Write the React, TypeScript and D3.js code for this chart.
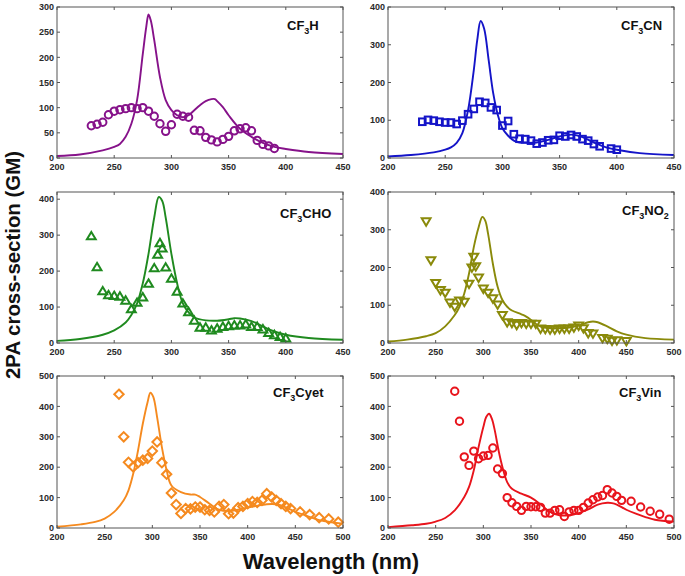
import React from "react";
import * as d3 from "d3";

// ---------- DATA ----------
type P = [number, number];

const cf3hFit: P[] = [[200,4],[220,7],[240,15],[250,22],[255,28],[260,42],[265,68],[270,115],[275,207],[278,260],[280,285],[282,273],[285,234],[290,161],[295,115],[300,95],[305,85],[310,81],[315,85],[320,95],[325,105],[330,113],[335,117],[338,117],[340,113],[345,101],[350,85],[360,58],[370,42],[380,30],[390,22],[400,18],[420,12],[450,8]];
const cf3hExp: P[] = [[230,64],[235,67],[240,71],[245,86],[250,93],[255,96],[260,98],[265,100],[270,98],[275,100],[280,93],[285,83],[290,68],[295,53],[300,66],[305,87],[310,83],[315,81],[320,55],[325,54],[330,41],[335,36],[340,32],[345,37],[350,43],[355,54],[360,58],[365,60],[370,54],[375,35],[380,27],[385,24],[390,19]];

const cf3cnFit: P[] = [[200,4],[220,8],[240,15],[250,22],[255,28],[260,40],[265,66],[270,127],[275,233],[278,312],[281,363],[284,343],[288,259],[292,171],[296,114],[300,79],[305,59],[310,46],[315,41],[320,40],[330,41],[340,48],[350,57],[360,62],[365,60],[370,55],[380,41],[390,29],[400,22],[420,13],[450,8]];
const cf3cnExp: P[] = [[230,96],[235,101],[240,99],[245,96],[250,94],[255,94],[260,90],[265,99],[270,116],[275,130],[280,149],[285,146],[290,134],[295,127],[300,86],[305,98],[310,63],[315,51],[320,50],[325,46],[330,38],[335,41],[340,47],[345,48],[350,59],[355,57],[360,61],[365,57],[370,50],[375,46],[380,37],[385,31],[395,25],[400,22]];

const cf3choFit: P[] = [[200,6],[220,11],[240,23],[250,35],[260,57],[265,78],[270,110],[275,166],[280,248],[285,349],[289,406],[292,395],[295,349],[300,248],[305,166],[310,110],[315,85],[320,71],[330,63],[340,62],[350,66],[355,69],[360,68],[370,61],[380,46],[390,32],[400,23],[420,14],[450,9]];
const cf3choExp: P[] = [[230,297],[235,211],[240,144],[245,133],[250,131],[255,129],[260,118],[265,94],[270,112],[275,127],[280,165],[285,208],[288,246],[290,278],[292,263],[295,210],[300,179],[305,143],[310,110],[315,86],[320,62],[325,43],[330,43],[335,35],[340,40],[345,45],[350,47],[355,49],[360,49],[365,52],[370,45],[375,45],[380,38],[385,28],[390,22],[395,17],[400,13]];

const cf3no2Fit: P[] = [[200,4],[220,9],[240,18],[250,26],[260,44],[270,74],[275,96],[280,131],[285,184],[290,254],[295,306],[299,334],[302,324],[305,289],[310,210],[315,149],[320,114],[325,96],[330,86],[340,76],[345,70],[350,61],[355,51],[360,44],[370,39],[380,39],[390,41],[400,46],[410,55],[415,57],[420,55],[430,44],[440,31],[450,22],[470,13],[500,9]];
const cf3no2Exp: P[] = [[240,322],[245,219],[250,159],[255,140],[260,133],[265,107],[270,96],[275,112],[280,109],[285,157],[288,200],[290,228],[292,203],[295,173],[300,144],[305,133],[310,118],[315,102],[320,74],[325,55],[330,53],[335,48],[340,53],[345,51],[350,51],[355,51],[360,38],[365,37],[370,36],[375,36],[380,38],[385,38],[390,38],[395,41],[400,46],[405,39],[410,26],[415,25],[425,13],[430,11],[435,6],[440,7],[450,5]];

const cf3cyetFit: P[] = [[200,4],[225,12],[240,20],[250,31],[260,53],[270,91],[275,124],[280,179],[285,255],[290,343],[295,414],[298,445],[301,431],[305,365],[310,266],[315,190],[320,140],[330,118],[340,110],[345,110],[350,102],[360,80],[370,60],[380,56],[390,60],[400,67],[410,73],[420,78],[425,79],[430,78],[440,68],[450,53],[460,42],[470,31],[480,23],[500,14]];
const cf3cyetExp: P[] = [[265,440],[270,300],[275,216],[280,201],[285,215],[290,223],[295,229],[300,253],[305,283],[310,215],[315,177],[320,115],[325,77],[330,48],[335,64],[340,63],[345,69],[350,69],[355,60],[360,58],[365,53],[370,71],[375,77],[380,47],[385,49],[390,67],[395,71],[400,80],[405,87],[410,84],[415,91],[420,113],[425,102],[430,91],[435,80],[440,71],[445,64],[455,53],[465,44],[475,34],[485,30],[495,19]];

const cf3vinFit: P[] = [[200,3],[225,9],[240,14],[250,21],[260,33],[270,58],[280,102],[285,135],[290,190],[295,266],[300,332],[303,365],[306,376],[309,359],[312,321],[316,255],[320,201],[325,151],[330,129],[340,113],[350,100],[360,78],[370,53],[380,42],[390,42],[400,49],[410,61],[420,77],[430,83],[435,82],[440,77],[450,60],[460,47],[470,36],[480,27],[500,21]];
const cf3vinExp: P[] = [[270,450],[275,351],[280,234],[285,206],[290,253],[295,228],[300,237],[305,239],[310,263],[315,194],[320,179],[325,100],[330,83],[335,71],[340,58],[345,71],[350,70],[355,70],[360,68],[365,49],[370,49],[375,58],[380,60],[385,38],[390,53],[395,58],[400,58],[405,68],[410,82],[415,93],[420,102],[425,107],[430,126],[435,115],[440,104],[445,91],[455,88],[465,69],[475,55],[485,45],[495,29]];

const xTicksShort = [200, 250, 300, 350, 400, 450];
const xTicksLong = [200, 250, 300, 350, 400, 450, 500];
const yTicks300 = [0, 50, 100, 150, 200, 250, 300];
const yTicks400 = [0, 100, 200, 300, 400];
const yTicks500 = [0, 100, 200, 300, 400, 500];

const labels = ["H", "CN", "CHO", "NO2", "Cyet", "Vin"];

// ---------- LAYOUT ----------
type Marker = "circle" | "square" | "tri" | "itri" | "diamond";
interface Panel {
  name: string;
  fit: P[];
  exp: P[];
  color: string;
  marker: Marker;
  xDom: [number, number];
  yDom: [number, number];
  xTicks: number[];
  yTicks: number[];
  x0: number; x1: number; y0: number; y1: number;
  lx: number; ly: number;
}

const LX0 = 57, LX1 = 343, RX0 = 388, RX1 = 674;
const R1 = [7, 158], R2 = [192, 343], R3 = [376, 528];

const panels: Panel[] = [
  { name: labels[0], fit: cf3hFit, exp: cf3hExp, color: "#86128a", marker: "circle", xDom: [200, 450], yDom: [0, 300], xTicks: xTicksShort, yTicks: yTicks300, x0: LX0, x1: LX1, y0: R1[0], y1: R1[1], lx: 287, ly: 30 },
  { name: labels[1], fit: cf3cnFit, exp: cf3cnExp, color: "#1414c8", marker: "square", xDom: [200, 450], yDom: [0, 400], xTicks: xTicksShort, yTicks: yTicks400, x0: RX0, x1: RX1, y0: R1[0], y1: R1[1], lx: 621, ly: 30 },
  { name: labels[2], fit: cf3choFit, exp: cf3choExp, color: "#1f8a1f", marker: "tri", xDom: [200, 450], yDom: [0, 420], xTicks: xTicksShort, yTicks: yTicks400, x0: LX0, x1: LX1, y0: R2[0], y1: R2[1], lx: 280, ly: 218 },
  { name: labels[3], fit: cf3no2Fit, exp: cf3no2Exp, color: "#8a8a0a", marker: "itri", xDom: [200, 500], yDom: [0, 400], xTicks: xTicksLong, yTicks: yTicks400, x0: RX0, x1: RX1, y0: R2[0], y1: R2[1], lx: 622, ly: 215 },
  { name: labels[4], fit: cf3cyetFit, exp: cf3cyetExp, color: "#f58a1f", marker: "diamond", xDom: [200, 500], yDom: [0, 500], xTicks: xTicksLong, yTicks: yTicks500, x0: LX0, x1: LX1, y0: R3[0], y1: R3[1], lx: 273, ly: 397 },
  { name: labels[5], fit: cf3vinFit, exp: cf3vinExp, color: "#e8141c", marker: "circle", xDom: [200, 500], yDom: [0, 500], xTicks: xTicksLong, yTicks: yTicks500, x0: RX0, x1: RX1, y0: R3[0], y1: R3[1], lx: 619, ly: 397 },
];

const FONT = "'Liberation Sans', Arial, Helvetica, sans-serif";

function MarkerShape({ m, x, y, color }: { m: Marker; x: number; y: number; color: string }) {
  const common = { fill: "none", stroke: color, strokeWidth: 2 };
  if (m === "circle") return <circle cx={x} cy={y} r={3.7} {...common} />;
  if (m === "square") return <rect x={x - 3.3} y={y - 3.3} width={6.6} height={6.6} {...common} />;
  if (m === "diamond") {
    const s = 4.7;
    return <path d={`M${x},${y - s}L${x + s},${y}L${x},${y + s}L${x - s},${y}Z`} {...common} />;
  }
  const h = 3.7, w = 4.4;
  if (m === "tri") return <path d={`M${x},${y - h - 0.6}L${x + w},${y + h - 0.6}L${x - w},${y + h - 0.6}Z`} {...common} />;
  return <path d={`M${x},${y + h + 0.6}L${x + w},${y - h + 0.6}L${x - w},${y - h + 0.6}Z`} {...common} />;
}

function PanelView({ p }: { p: Panel }) {
  const xs = d3.scaleLinear().domain(p.xDom).range([p.x0, p.x1]);
  const ys = d3.scaleLinear().domain(p.yDom).range([p.y1, p.y0]);
  const line = d3
    .line<P>()
    .x((d) => xs(d[0]))
    .y((d) => ys(d[1]))
    .curve(d3.curveCatmullRom.alpha(0.5));
  const clipId = `clip-${p.name}`;
  const tickLen = 3;
  const sub = p.name === "NO2";
  return (
    <g>
      <defs>
        <clipPath id={clipId}>
          <rect x={p.x0} y={p.y0} width={p.x1 - p.x0} height={p.y1 - p.y0} />
        </clipPath>
      </defs>
      <rect x={p.x0} y={p.y0} width={p.x1 - p.x0} height={p.y1 - p.y0} fill="#fff" />
      <g clipPath={`url(#${clipId})`}>
        <path d={line(p.fit) || ""} fill="none" stroke={p.color} strokeWidth={1.9} />
      </g>
      {p.exp.map((d, i) => (
        <MarkerShape key={i} m={p.marker} x={xs(d[0])} y={ys(d[1])} color={p.color} />
      ))}
      <rect x={p.x0} y={p.y0} width={p.x1 - p.x0} height={p.y1 - p.y0} fill="none" stroke="#555" strokeWidth={1} />
      {p.xTicks.map((t) => (
        <g key={`x${t}`}>
          <line x1={xs(t)} x2={xs(t)} y1={p.y1} y2={p.y1 - tickLen} stroke="#555" />
          <line x1={xs(t)} x2={xs(t)} y1={p.y0} y2={p.y0 + tickLen} stroke="#555" />
          <text x={xs(t)} y={p.y1 + 12} textAnchor="middle" fontSize={9} fontWeight="bold" fill="#2a2a2a" fontFamily={FONT}>
            {t}
          </text>
        </g>
      ))}
      {p.yTicks.map((t) => (
        <g key={`y${t}`}>
          <line x1={p.x0} x2={p.x0 + tickLen} y1={ys(t)} y2={ys(t)} stroke="#555" />
          <line x1={p.x1} x2={p.x1 - tickLen} y1={ys(t)} y2={ys(t)} stroke="#555" />
          <text x={p.x0 - 3} y={ys(t) + 3.2} textAnchor="end" fontSize={9} fontWeight="bold" fill="#2a2a2a" fontFamily={FONT}>
            {t}
          </text>
        </g>
      ))}
      <text x={p.lx} y={p.ly} fontSize={13} fontWeight="bold" fill="#111" fontFamily={FONT}>
        CF
        <tspan fontSize={9} dy={4}>3</tspan>
        {sub ? (
          <>
            <tspan dy={-4}>NO</tspan>
            <tspan fontSize={9} dy={4}>2</tspan>
          </>
        ) : (
          <tspan dy={-4}>{p.name}</tspan>
        )}
      </text>
    </g>
  );
}

export default function App() {
  return (
    <svg width={685} height={576} style={{ position: "absolute", left: 0, top: 0, background: "#fff" }}>
      <rect width={685} height={576} fill="#fff" />
      {panels.map((p) => (
        <PanelView key={p.name} p={p} />
      ))}
      <text x={331} y={569} textAnchor="middle" fontSize={22} fontWeight="bold" fill="#111" fontFamily={FONT}>
        Wavelength (nm)
      </text>
      <text
        transform="translate(20,265) rotate(-90)"
        textAnchor="middle"
        fontSize={20}
        fontWeight="bold"
        fill="#111"
        fontFamily={FONT}
        textLength={228}
        lengthAdjust="spacingAndGlyphs"
      >
        2PA cross-section (GM)
      </text>
    </svg>
  );
}
